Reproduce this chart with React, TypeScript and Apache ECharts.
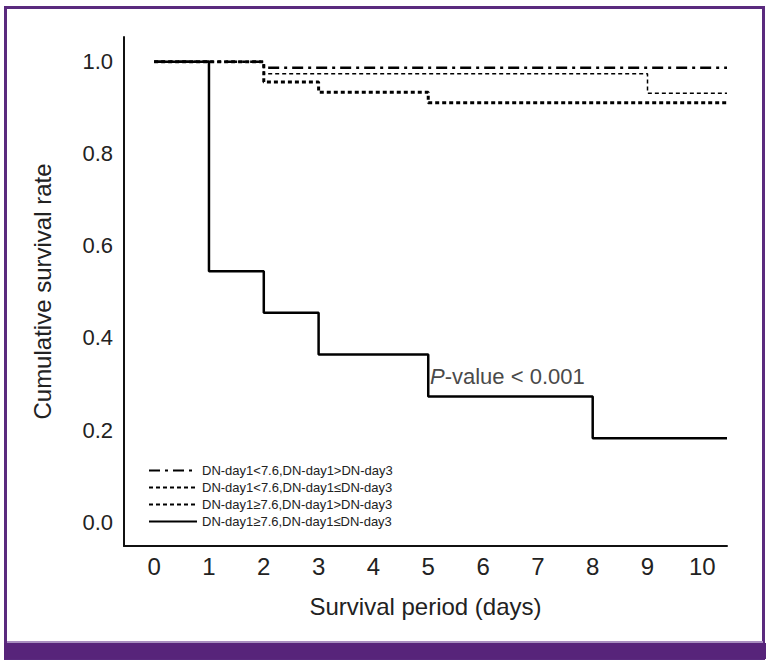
import React, { useEffect, useRef } from "react";
import * as echarts from "echarts";

const seriesNames = [
  "DN-day1<7.6,DN-day1>DN-day3",
  "DN-day1<7.6,DN-day1≤DN-day3",
  "DN-day1≥7.6,DN-day1>DN-day3",
  "DN-day1≥7.6,DN-day1≤DN-day3",
];

const timesA = [0, 2, 10.45];
const survA = [1, 0.987, 0.987];

const timesB = [0, 2, 9, 10.45];
const survB = [1, 0.974, 0.932, 0.932];

const timesC = [0, 2, 3, 5, 10.45];
const survC = [1, 0.956, 0.934, 0.911, 0.911];

const timesD = [0, 1, 2, 3, 5, 8, 10.45];
const survD = [1, 0.545, 0.455, 0.364, 0.273, 0.182, 0.182];

const xTicks = [0, 1, 2, 3, 4, 5, 6, 7, 8, 9, 10];
const yTicks = [0, 0.2, 0.4, 0.6, 0.8, 1.0];

const NARROW = "Liberation Sans Narrow, Arial Narrow, Liberation Sans, sans-serif";
const SANS = "Liberation Sans, Arial, sans-serif";
const PURPLE = "#5a2a7e";

const zip = (t: number[], s: number[]) => t.map((x, i) => [x, s[i]]);

export default function App() {
  const ref = useRef<HTMLDivElement>(null);
  useEffect(() => {
    document.body.style.margin = "0";
    const chart = echarts.init(ref.current!, null, { renderer: "svg" });
    const styles = [
      { width: 2.5, type: [11, 5, 3, 5] },
      { width: 1.5, type: [4, 3] },
      { width: 3, type: [4, 3] },
      { width: 2.5, type: "solid" },
    ];
    const data = [zip(timesA, survA), zip(timesB, survB), zip(timesC, survC), zip(timesD, survD)];
    chart.setOption({
      animation: false,
      backgroundColor: "#ffffff",
      grid: { left: 124, right: 45, top: 37, bottom: 118 },
      legend: {
        orient: "vertical",
        left: 143,
        top: 459,
        itemWidth: 48,
        itemHeight: 10,
        itemGap: 4,
        data: seriesNames,
        itemStyle: { opacity: 0 },
        textStyle: { fontFamily: SANS, fontSize: 13, color: "#222" },
      },
      xAxis: {
        type: "value",
        min: -0.55,
        max: 10.45,
        name: "Survival period (days)",
        nameLocation: "middle",
        nameGap: 48,
        nameTextStyle: { fontFamily: NARROW, fontSize: 24, color: "#222" },
        axisLine: { show: true, onZero: false, lineStyle: { color: "#111", width: 2 } },
        axisTick: { show: false },
        splitLine: { show: false },
        axisLabel: {
          customValues: xTicks,
          fontFamily: NARROW,
          fontSize: 24,
          color: "#222",
          margin: 8,
          formatter: (v: number) => String(Math.round(v)),
        },
      },
      yAxis: {
        type: "value",
        min: -0.052,
        max: 1.054,
        name: "Cumulative survival rate",
        nameLocation: "middle",
        nameGap: 70,
        nameTextStyle: { fontFamily: NARROW, fontSize: 24, color: "#222" },
        axisLine: { show: true, onZero: false, lineStyle: { color: "#111", width: 2 } },
        axisTick: { show: false },
        splitLine: { show: false },
        axisLabel: {
          customValues: yTicks,
          fontFamily: SANS,
          fontSize: 22,
          color: "#222",
          margin: 11,
          formatter: (v: number) => v.toFixed(1),
        },
      },
      series: seriesNames.map((name, i) => ({
        name,
        type: "line",
        step: "end",
        symbol: "none",
        data: data[i],
        color: "#000",
        lineStyle: { color: "#000", width: styles[i].width, type: styles[i].type },
        z: 10 - i,
      })),
      graphic: [
        {
          type: "rect",
          shape: { x: 5.5, y: 7.5, width: 758, height: 651 },
          style: { fill: "none", stroke: PURPLE, lineWidth: 3 },
          silent: true,
        },
        {
          type: "rect",
          shape: { x: 4, y: 643, width: 762, height: 16 },
          style: { fill: "#57247a" },
          silent: true,
        },
        {
          type: "rect",
          shape: { x: 7, y: 641, width: 756, height: 2 },
          style: { fill: "#a98fc0" },
          silent: true,
        },
        {
          type: "text",
          x: 430,
          y: 376,
          style: {
            text: "{i|P}-value < 0.001",
            fontFamily: NARROW,
            fontSize: 22,
            fill: "#4a4a4a",
            verticalAlign: "middle",
            rich: { i: { fontStyle: "italic", fontFamily: NARROW, fontSize: 22, fill: "#4a4a4a" } },
          },
        },
      ],
    });
    return () => chart.dispose();
  }, []);
  return <div ref={ref} style={{ position: "absolute", left: 0, top: 0, width: 772, height: 664 }} />;
}
